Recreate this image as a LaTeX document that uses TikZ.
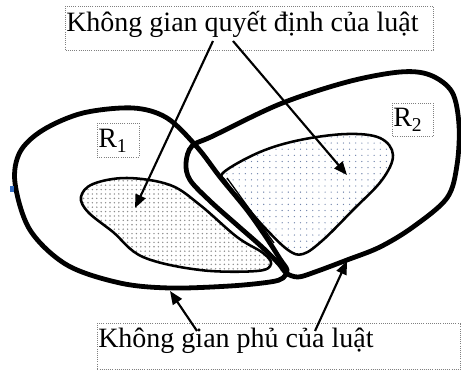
\documentclass[tikz,border=0pt]{standalone}
\usepackage{fontspec}
\setmainfont{Liberation Serif}
\usepackage{tikz}
\usetikzlibrary{arrows.meta, patterns.meta}

\begin{document}
\begin{tikzpicture}[x = 0.75pt, y = -0.75pt,
		loopline/.style = {line width = 3.6pt},
		innerline/.style = {line width = 1.9pt},
		pointer/.style = {line width = 1.6pt, -{Triangle[length = 10pt, width = 8pt]}},
		labelbox/.style = {gray, densely dotted, line width = 0.6pt},
		labeltext/.style = {inner sep = 0, anchor = base west, font = \fontsize{21}{25}\selectfont}]
			\useasboundingbox (0, 0) rectangle (461, 370);
			\fill[white] (0, 0) rectangle (461, 370);
			\fill[pattern = {Dots[distance = 3.3pt, radius = 0.6pt]}, pattern color = gray!90]
			plot[smooth cycle, tension = 0.6] coordinates {(81, 197) (93, 184) (127, 178) (170, 185) (200, 205) (237, 237) (263, 253) (271, 264) (257, 271) (200, 270) (143, 257) (113, 232) (88, 212)};
			\fill[pattern = {Dots[distance = 4.6pt, radius = 0.5pt]}, pattern color = {rgb,255:red,110;green,130;blue,170}]
			plot[smooth cycle, tension = 0.6] coordinates {(224, 172) (260, 152) (300, 140) (347, 134) (380, 138) (393, 155) (382, 180) (353, 210) (323, 240) (303, 254) (288, 250) (265, 228) (245, 205) (226, 182)};
			\draw[innerline]
			plot[smooth cycle, tension = 0.6] coordinates {(81, 197) (93, 184) (127, 178) (170, 185) (200, 205) (237, 237) (263, 253) (271, 264) (257, 271) (200, 270) (143, 257) (113, 232) (88, 212)};
			\draw[innerline]
			plot[smooth cycle, tension = 0.6] coordinates {(224, 172) (260, 152) (300, 140) (347, 134) (380, 138) (393, 155) (382, 180) (353, 210) (323, 240) (303, 254) (288, 250) (265, 228) (245, 205) (226, 182)};
			\draw[line width = 1pt] (227, 178) -- (274, 243);
			\draw[loopline]
			plot[smooth cycle, tension = 0.55] coordinates {(280, 259) (287, 270) (283, 278) (270, 282) (230, 286) (170, 288) (120, 283) (67, 265) (30, 230) (15, 183) (20, 152) (43, 130) (83, 113) (133, 108) (167, 118) (197, 147) (220, 177) (247, 210) (266, 237)};
			\draw[loopline]
			plot[smooth cycle, tension = 0.55] coordinates {(186, 163) (192, 146) (213, 136) (280, 104) (347, 82) (400, 72) (430, 75) (452, 92) (459, 125) (457, 165) (447, 198) (413, 227) (380, 247) (347, 260) (315, 272) (298, 277) (286, 273) (279, 264) (262, 247) (237, 225) (210, 201) (190, 180)};
			\fill[blue!60!cyan!70!black!80] (10, 186) rectangle (14, 192);
			\draw[labelbox] (65, 6) rectangle (433, 50);
			\draw[labelbox] (97, 323) rectangle (460.5, 369.5);
			\draw[labelbox] (97, 123) rectangle (139, 157);
			\draw[labelbox] (392, 103) rectangle (433, 136);
			\node[labeltext] (decision) at (66, 32) {Không gian quyết định của luật};
			\node[labeltext] (cover) at (98, 348) {Không gian phủ của luật};
			\node[labeltext] (rone) at (98, 148) {R\textsubscript{1}};
			\node[labeltext] (rtwo) at (393, 127) {R\textsubscript{2}};
			\coordinate (dleft) at (213, 41);
			\coordinate (dright) at (233, 41);
			\coordinate (cleft) at (197, 331);
			\coordinate (cright) at (315, 331);
			\coordinate (innerone) at (135, 208);
			\coordinate (innertwo) at (347, 175);
			\coordinate (loopone) at (170, 291);
			\coordinate (looptwo) at (347, 261);
			\draw[pointer] (dleft) -- (innerone);
			\draw[pointer] (dright) -- (innertwo);
			\draw[pointer] (cleft) -- (loopone);
			\draw[pointer] (cright) -- (looptwo);
		\end{tikzpicture}
\end{document}
